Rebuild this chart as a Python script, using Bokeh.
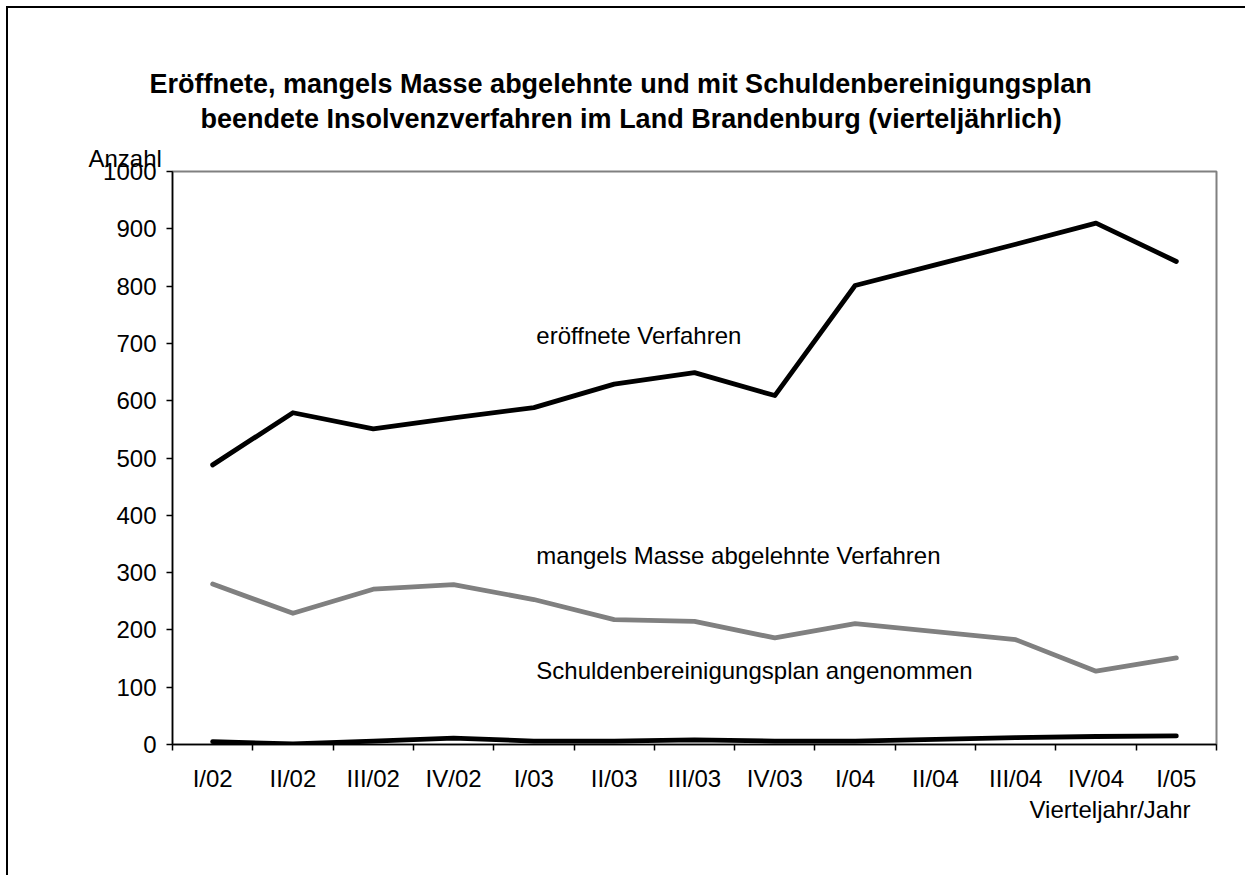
from bokeh.plotting import figure
from bokeh.models import Range1d, FixedTicker, Label, Title
from bokeh.embed import file_html
from bokeh.resources import INLINE

categories = ["I/02", "II/02", "III/02", "IV/02", "I/03", "II/03", "III/03",
              "IV/03", "I/04", "II/04", "III/04", "IV/04", "I/05"]
eroeffnet = [488, 579, 551, 570, 588, 629, 649, 609, 801, 837, 873, 910, 843]
abgelehnt = [280, 229, 271, 279, 253, 218, 215, 186, 211, 197, 183, 128, 151]
plan = [5, 1, 6, 11, 6, 6, 8, 6, 6, 9, 12, 14, 15]
y_ticks = [0, 100, 200, 300, 400, 500, 600, 700, 800, 900, 1000]

title_lines = ["Eröffnete, mangels Masse abgelehnte und mit Schuldenbereinigungsplan",
               "beendete Insolvenzverfahren im Land Brandenburg (vierteljährlich)"]
series_labels = ["eröffnete Verfahren", "mangels Masse abgelehnte Verfahren",
                 "Schuldenbereinigungsplan angenommen"]
y_title = "Anzahl"
x_title = "Vierteljahr/Jahr"

FONT = "Liberation Sans"
FS = "24px"
W, H = 1245, 875

n = len(categories)
xs = [i + 0.5 for i in range(n)]

p = figure(width=W, height=H, output_backend="svg", toolbar_location=None,
           x_range=Range1d(0, n), y_range=Range1d(0, 1000),
           min_border_left=172, min_border_right=29,
           min_border_top=171, min_border_bottom=131)
p.styles = {
    "background": "linear-gradient(#000,#000) 6px 6px / 2px 100% no-repeat, "
                  "linear-gradient(#000,#000) 6px 6px / 100% 2px no-repeat, white",
}
p.background_fill_color = "white"
p.border_fill_alpha = 0
p.xgrid.visible = False
p.ygrid.visible = False
p.outline_line_color = "#808080"
p.outline_line_width = 2

p.line(xs, eroeffnet, line_color="black", line_width=4.8, line_cap="round", line_join="round")
p.line(xs, abgelehnt, line_color="#808080", line_width=4.8, line_cap="round", line_join="round")
p.line(xs, plan, line_color="black", line_width=4.8, line_cap="round", line_join="round")

xa = p.xaxis[0]
xa.ticker = FixedTicker(ticks=xs, minor_ticks=list(range(n + 1)))
xa.major_label_overrides = {x: c for x, c in zip(xs, categories)}
xa.major_tick_out = 0
xa.major_tick_in = 0
xa.minor_tick_out = 6
xa.minor_tick_in = 0
xa.minor_tick_line_color = "black"
xa.minor_tick_line_width = 1.5
xa.axis_line_color = "black"
xa.axis_line_width = 1.5
xa.major_label_text_font = FONT
xa.major_label_text_font_size = FS
xa.major_label_text_color = "black"
xa.major_label_standoff = 14

ya = p.yaxis[0]
ya.ticker = FixedTicker(ticks=y_ticks)
ya.major_tick_out = 6
ya.major_tick_in = 0
ya.minor_tick_out = 0
ya.minor_tick_in = 0
ya.major_tick_line_color = "black"
ya.major_tick_line_width = 1.5
ya.axis_line_color = "black"
ya.axis_line_width = 1.5
ya.major_label_text_font = FONT
ya.major_label_text_font_size = FS
ya.major_label_text_color = "black"
ya.major_label_standoff = 10

# titles above the frame (first added = closest to the frame)
p.add_layout(Title(text=y_title, align="left", offset=-84, text_font=FONT,
                   text_font_size=FS, text_font_style="normal", text_color="black",
                   standoff=0), "above")
p.add_layout(Title(text=title_lines[1], align="left", offset=28, text_font=FONT,
                   text_font_size="27px", text_font_style="bold", text_color="black",
                   standoff=17), "above")
p.add_layout(Title(text=title_lines[0], align="left", offset=-23, text_font=FONT,
                   text_font_size="27px", text_font_style="bold", text_color="black",
                   standoff=-11), "above")
p.add_layout(Title(text=x_title, align="right", offset=26, text_font=FONT,
                   text_font_size=FS, text_font_style="normal", text_color="black",
                   standoff=-2), "below")

def add_label(x, y, text):
    p.add_layout(Label(x=x, y=y, text=text, text_font=FONT, text_font_size=FS,
                       text_align="left", text_baseline="middle", text_color="black"))

add_label(4.53, 714, series_labels[0])
add_label(4.53, 330, series_labels[1])
add_label(4.53, 129, series_labels[2])

open("out.html", "w").write(file_html(p, INLINE))
